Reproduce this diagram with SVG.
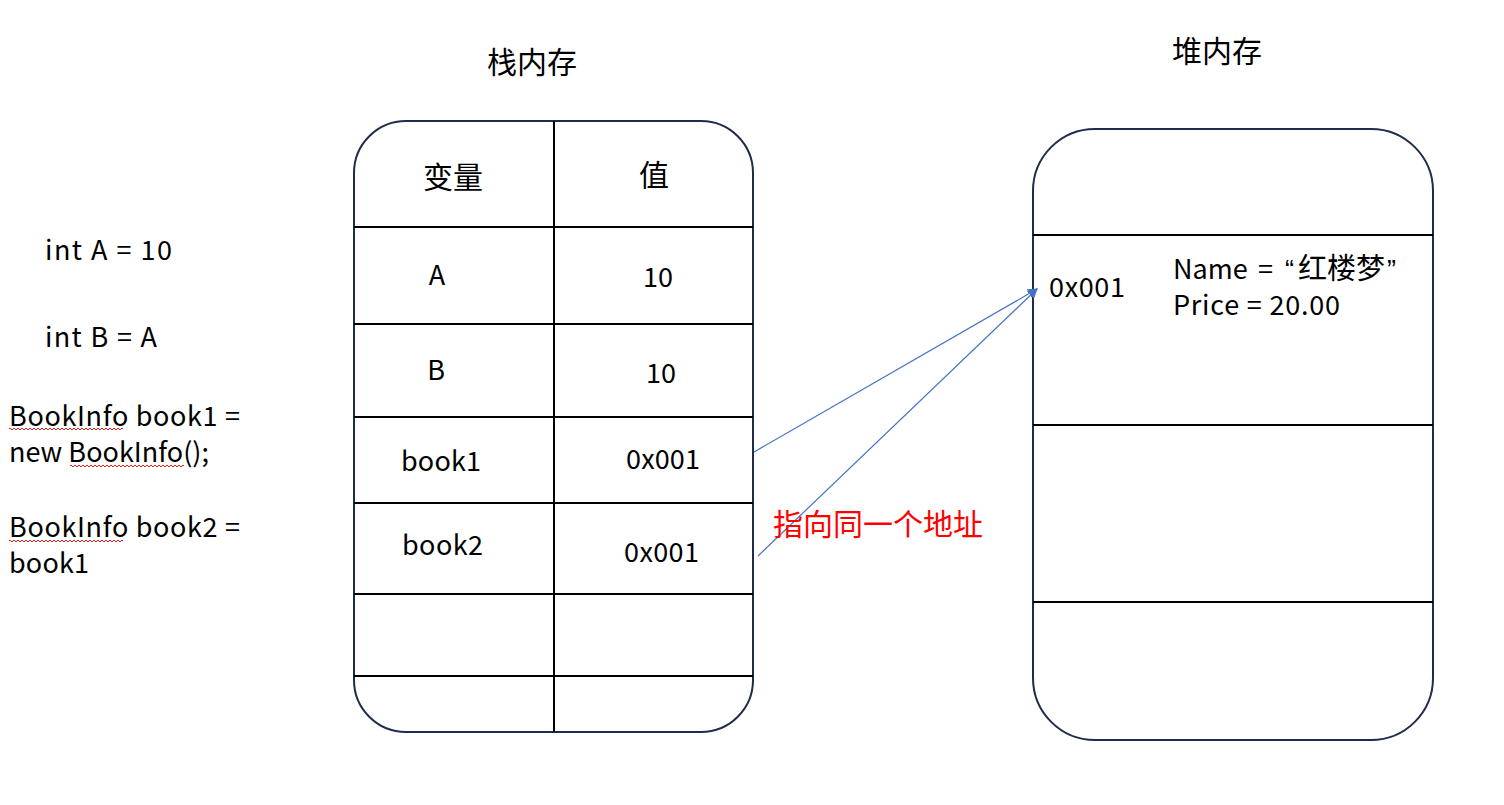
<svg xmlns="http://www.w3.org/2000/svg" width="1504" height="805" viewBox="0 0 1504 805">
<defs>
<style>
.t{font-family:"Noto Sans CJK SC","Liberation Sans",sans-serif;font-size:27px;fill:#000}
.h{font-size:30px}
.q{font-family:"Liberation Sans",sans-serif}
.box{fill:none;stroke:#1f2d4a;stroke-width:2}
.ln{stroke:#000;stroke-width:2}
.con{stroke:#4472c4;stroke-width:1.2;fill:none}
.sq{fill:none;stroke:#e02020;stroke-width:1}
</style>
<marker id="ah" markerWidth="10" markerHeight="10" refX="9" refY="5" orient="auto" markerUnits="userSpaceOnUse">
<path d="M0,0 L10,5 L0,10 Z" fill="#4472c4"/>
</marker>
</defs>
<rect width="1504" height="805" fill="#fff"/>

<g id="code">
<text class="t" x="45" y="260" textLength="127" lengthAdjust="spacing">int A = 10</text>
<text class="t" x="45" y="347" textLength="112" lengthAdjust="spacing">int B = A</text>
<text class="t" x="9" y="426" textLength="231" lengthAdjust="spacing">BookInfo book1 =</text>
<text class="t" x="9" y="462" textLength="200" lengthAdjust="spacing">new BookInfo();</text>
<text class="t" x="9" y="537" textLength="231" lengthAdjust="spacing">BookInfo book2 =</text>
<text class="t" x="9" y="573" textLength="80" lengthAdjust="spacing">book1</text>
<path class="sq" d="M9,429 q1,-2 2,0 t2,0 t2,0 t2,0 t2,0 t2,0 t2,0 t2,0 t2,0 t2,0 t2,0 t2,0 t2,0 t2,0 t2,0 t2,0 t2,0 t2,0 t2,0 t2,0 t2,0 t2,0 t2,0 t2,0 t2,0 t2,0 t2,0 t2,0 t2,0 t2,0 t2,0 t2,0 t2,0 t2,0 t2,0 t2,0 t2,0 t2,0 t2,0 t2,0 t2,0 t2,0 t2,0 t2,0 t2,0 t2,0 t2,0 t2,0 t2,0 t2,0 t2,0 t2,0 t2,0 t2,0 t2,0 t2,0 t2,0"/>
<path class="sq" d="M70,466 q1,-2 2,0 t2,0 t2,0 t2,0 t2,0 t2,0 t2,0 t2,0 t2,0 t2,0 t2,0 t2,0 t2,0 t2,0 t2,0 t2,0 t2,0 t2,0 t2,0 t2,0 t2,0 t2,0 t2,0 t2,0 t2,0 t2,0 t2,0 t2,0 t2,0 t2,0 t2,0 t2,0 t2,0 t2,0 t2,0 t2,0 t2,0 t2,0 t2,0 t2,0 t2,0 t2,0 t2,0 t2,0 t2,0 t2,0 t2,0 t2,0 t2,0 t2,0 t2,0 t2,0 t2,0 t2,0 t2,0 t2,0 t2,0"/>
<path class="sq" d="M9,541 q1,-2 2,0 t2,0 t2,0 t2,0 t2,0 t2,0 t2,0 t2,0 t2,0 t2,0 t2,0 t2,0 t2,0 t2,0 t2,0 t2,0 t2,0 t2,0 t2,0 t2,0 t2,0 t2,0 t2,0 t2,0 t2,0 t2,0 t2,0 t2,0 t2,0 t2,0 t2,0 t2,0 t2,0 t2,0 t2,0 t2,0 t2,0 t2,0 t2,0 t2,0 t2,0 t2,0 t2,0 t2,0 t2,0 t2,0 t2,0 t2,0 t2,0 t2,0 t2,0 t2,0 t2,0 t2,0 t2,0 t2,0 t2,0"/>
</g>

<g id="stack">
<text class="t h" x="532" y="73" text-anchor="middle">栈内存</text>
<rect class="box" x="354" y="121" width="399" height="611" rx="52" ry="52"/>
<line class="ln" x1="554" y1="121" x2="554" y2="732"/>
<line class="ln" x1="354" y1="227" x2="753" y2="227"/>
<line class="ln" x1="354" y1="324" x2="753" y2="324"/>
<line class="ln" x1="354" y1="417" x2="753" y2="417"/>
<line class="ln" x1="354" y1="503" x2="753" y2="503"/>
<line class="ln" x1="354" y1="594" x2="753" y2="594"/>
<line class="ln" x1="354" y1="676" x2="753" y2="676"/>
<text class="t h" x="453" y="188" text-anchor="middle">变量</text>
<text class="t h" x="654" y="186" text-anchor="middle">值</text>
<text class="t" x="437" y="285" text-anchor="middle">A</text>
<text class="t" x="658" y="287" text-anchor="middle">10</text>
<text class="t" x="436" y="380" text-anchor="middle">B</text>
<text class="t" x="661" y="383" text-anchor="middle">10</text>
<text class="t" x="401" y="471" textLength="80" lengthAdjust="spacing">book1</text>
<text class="t" x="626" y="469" textLength="74" lengthAdjust="spacing">0x001</text>
<text class="t" x="402" y="555" textLength="81" lengthAdjust="spacing">book2</text>
<text class="t" x="624" y="562" textLength="75" lengthAdjust="spacing">0x001</text>
</g>

<g id="heap">
<text class="t h" x="1217" y="62" text-anchor="middle">堆内存</text>
<rect class="box" x="1033" y="129" width="400" height="611" rx="62" ry="62"/>
<line class="ln" x1="1033" y1="235" x2="1433" y2="235"/>
<line class="ln" x1="1033" y1="425" x2="1433" y2="425"/>
<line class="ln" x1="1033" y1="602" x2="1433" y2="602"/>
<text class="t" x="1049" y="297" textLength="76" lengthAdjust="spacing">0x001</text>
<text class="t" x="1173" y="279">Name<tspan x="1258">=</tspan><tspan class="q" x="1285">“</tspan><tspan x="1298" style="font-size:29px">红楼梦</tspan><tspan class="q" x="1387">”</tspan></text>
<text class="t" x="1173" y="315" textLength="167" lengthAdjust="spacing">Price = 20.00</text>
</g>

<g id="connectors">
<line class="con" x1="754" y1="452" x2="1037" y2="289" marker-end="url(#ah)"/>
<line class="con" x1="758" y1="556" x2="1037" y2="289" marker-end="url(#ah)"/>
</g>

<g id="note">
<text x="773" y="535" style="font-family:'Noto Sans CJK SC',sans-serif;font-size:30px;fill:#ff0000">指向同一个地址</text>
</g>
</svg>
